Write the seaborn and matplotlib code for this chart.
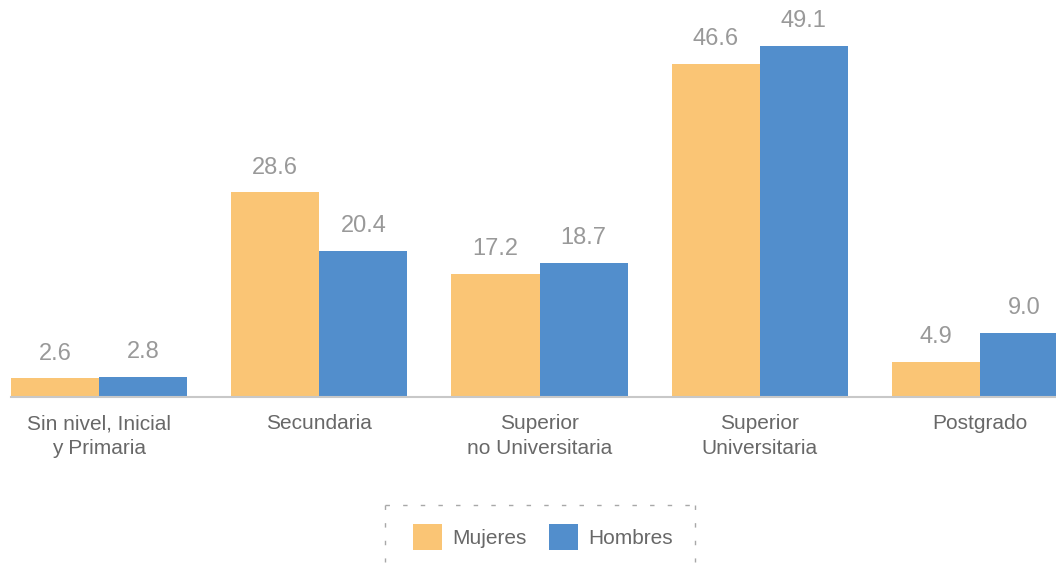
import matplotlib
matplotlib.use("Agg")
import matplotlib.pyplot as plt
from matplotlib.lines import Line2D
import seaborn as sns
import pandas as pd

categories = ["Sin nivel, Inicial\ny Primaria", "Secundaria", "Superior\nno Universitaria",
              "Superior\nUniversitaria", "Postgrado"]
mujeres = [2.6, 28.6, 17.2, 46.6, 4.9]
hombres = [2.8, 20.4, 18.7, 49.1, 9.0]
series_names = ["Mujeres", "Hombres"]
colors = ["#FAC575", "#528ECC"]

sns.set_theme(style="white")
plt.rcParams["font.family"] = ["Liberation Sans", "DejaVu Sans"]

df = pd.DataFrame({
    "categoria": categories * 2,
    "sexo": [series_names[0]] * len(categories) + [series_names[1]] * len(categories),
    "valor": mujeres + hombres,
})

W, H = 1056, 565
fig = plt.figure(figsize=(W / 100, H / 100), dpi=100)
ax = fig.add_axes([11 / W, 168 / H, 1045 / W, 397 / H])

sns.barplot(data=df, x="categoria", y="valor", hue="sexo", order=categories,
            hue_order=series_names, palette=colors, width=0.8, saturation=1,
            errorbar=None, ax=ax, legend=False, linewidth=0)

ax.set_xlim(-0.4, 4.345)
ax.set_ylim(0, 55.5)
ax.set_xlabel("")
ax.set_ylabel("")
ax.set_yticks([])
for s in ["top", "left", "right"]:
    ax.spines[s].set_visible(False)
ax.spines["bottom"].set_color("#C8C8C8")
ax.spines["bottom"].set_linewidth(1.5)
ax.tick_params(axis="x", length=0, pad=12.5, labelsize=15, labelcolor="#686868")
for lbl in ax.get_xticklabels():
    lbl.set_linespacing(1.38)

for container in ax.containers:
    ax.bar_label(container, fmt="%.1f", padding=10, fontsize=17, color="#999999")

# legend without frame, surrounded by a dashed open box
handles = [plt.Rectangle((0, 0), 1, 1, facecolor=c, edgecolor="none") for c in colors]
leg = fig.legend(handles, series_names, loc="center", bbox_to_anchor=(543 / W, 1 - 537 / H),
                 ncol=2, fontsize=15, frameon=False,
                 handlelength=1.4, handleheight=1.55, handletextpad=0.48,
                 columnspacing=1.06, labelcolor="#686868")

def fig_line(x0, y0, x1, y1):
    fig.add_artist(Line2D([x0 / W, x1 / W], [1 - y0 / H, 1 - y1 / H],
                          transform=fig.transFigure, color="#A8A8A8", lw=1.0,
                          linestyle=(0, (3.2, 9.5))))

fig_line(385, 505, 695, 505)
fig_line(385, 505, 385, 562)
fig_line(695, 505, 695, 562)

fig.savefig("out.png", dpi=100, facecolor="white")
